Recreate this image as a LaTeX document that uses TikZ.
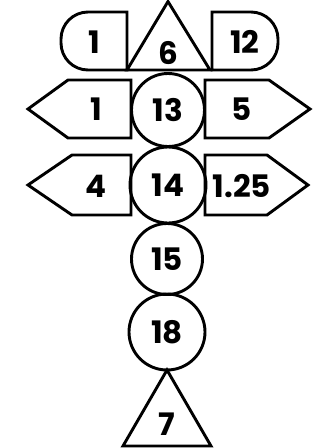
\documentclass[tikz,border=0pt]{standalone}
\usepackage{fontspec}
\setmainfont{Poppins}
\begin{document}
\begin{tikzpicture}[x=1pt,y=-1pt,
  shp/.style={draw=black,line width=2.9pt,line join=miter},
  num/.style={font=\fontsize{31}{31}\selectfont\bfseries,inner sep=0pt},
  circ/.style={shp,circle,minimum size=73pt,inner sep=0pt,font=\fontsize{31}{31}\selectfont\bfseries}]
\useasboundingbox (0,0) rectangle (327,448);
% top triangle
\draw[shp] (168,1.5) -- (210,70) -- (127,70) -- cycle;
% top-left rounded box
\draw[shp] (127,70) [rounded corners=27pt] -- (61,70) -- (61,12) [sharp corners] -- (127,12) -- cycle;
% top-right rounded box
\draw[shp] (212,12) [rounded corners=27pt] -- (278,12) -- (278,70) [sharp corners] -- (212,70) -- cycle;
% row 13 pentagons
\draw[shp] (131,80) -- (68,80) -- (28,109) -- (68,138) -- (131,138) -- cycle;
\draw[shp] (205,80) -- (269,80) -- (310,109) -- (269,138) -- (205,138) -- cycle;
% row 14 pentagons
\draw[shp] (131,155) -- (72,155) -- (28,185) -- (72,215) -- (131,215) -- cycle;
\draw[shp] (205,155) -- (267,155) -- (308,185) -- (267,215) -- (205,215) -- cycle;
% bottom triangle
\draw[shp] (167,370) -- (211,446) -- (123,446) -- cycle;
% circles
\node[circ,fill=white] (c13) at (168,110) {13};
\node[circ,minimum size=76pt] (c14) at (168,185) {14};
\node[circ,minimum size=71pt] (c15) at (167,259) {15};
\node[circ,minimum size=76pt] (c18) at (167,332) {18};
% texts
\node[num] (t6) at (168,53) {6};
\node[num] (tl1) at (94,42) {1};
\node[num] (t12) at (245,42) {12};
\node[num] (ml1) at (96,109) {1};
\node[num] (t5) at (242,109) {5};
\node[num] (t4) at (96,186) {4};
\node[num] (t125) at (242,186) {1.25};
\node[num] (t7) at (167,424) {7};
\end{tikzpicture}
\end{document}
